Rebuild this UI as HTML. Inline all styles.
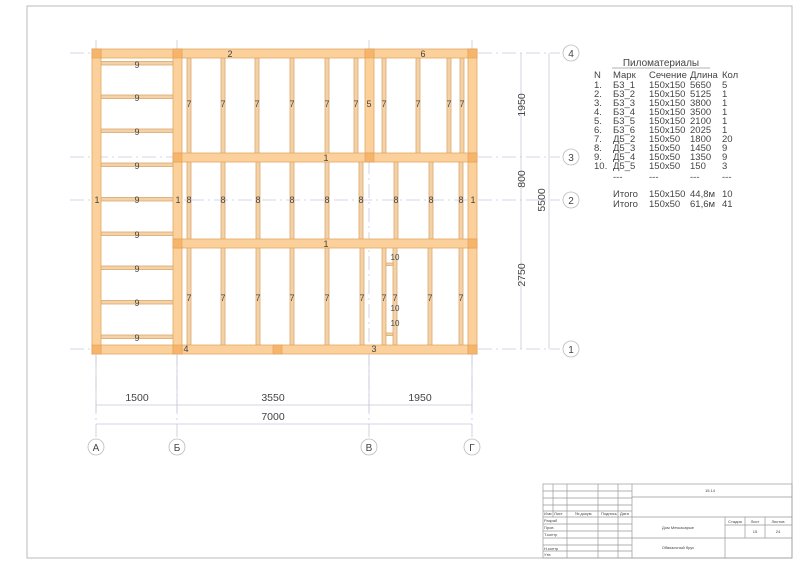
<!DOCTYPE html>
<html><head><meta charset="utf-8"><style>
html,body{margin:0;padding:0;background:#fff}
svg{display:block}
text{font-family:"Liberation Sans",sans-serif;fill:#444}
</style></head><body>
<svg width="800" height="565" viewBox="0 0 800 565" xmlns="http://www.w3.org/2000/svg">
<rect x="27" y="6" width="765" height="552" fill="none" stroke="#bbb" stroke-width="1"/>

<g stroke="#c8c8e0" stroke-width="0.8" stroke-dasharray="14,4,2,4" fill="none">
<line x1="70" y1="53" x2="560" y2="53"/>
<line x1="70" y1="157" x2="560" y2="157"/>
<line x1="70" y1="200" x2="560" y2="200"/>
<line x1="70" y1="349" x2="560" y2="349"/>
<line x1="96" y1="40" x2="96" y2="437"/>
<line x1="177" y1="40" x2="177" y2="437"/>
<line x1="369" y1="40" x2="369" y2="437"/>
<line x1="472" y1="40" x2="472" y2="437"/>
</g>

<g fill="#f5d2a6" stroke="#d9a86e" stroke-width="0.8">
<rect x="101" y="61.5" width="72" height="3.5"/>
<rect x="101" y="95" width="72" height="3.5"/>
<rect x="101" y="129" width="72" height="3.5"/>
<rect x="101" y="163" width="72" height="3.5"/>
<rect x="101" y="197.5" width="72" height="3.5"/>
<rect x="101" y="232" width="72" height="3.5"/>
<rect x="101" y="266" width="72" height="3.5"/>
<rect x="101" y="300.5" width="72" height="3.5"/>
<rect x="101" y="335" width="72" height="3.5"/>
</g>
<g fill="#f5d2a6" stroke="#d9a86e" stroke-width="0.8">
<rect x="187" y="58" width="4" height="96"/>
<rect x="221" y="58" width="4" height="96"/>
<rect x="255" y="58" width="4" height="96"/>
<rect x="290" y="58" width="4" height="96"/>
<rect x="325" y="58" width="4" height="96"/>
<rect x="354" y="58" width="4" height="96"/>
<rect x="382" y="58" width="4" height="96"/>
<rect x="416" y="58" width="4" height="96"/>
<rect x="447" y="58" width="4" height="96"/>
<rect x="460" y="58" width="4" height="96"/>
<rect x="187" y="161" width="4" height="78"/>
<rect x="221" y="161" width="4" height="78"/>
<rect x="256" y="161" width="4" height="78"/>
<rect x="290" y="161" width="4" height="78"/>
<rect x="325" y="161" width="4" height="78"/>
<rect x="359" y="161" width="4" height="78"/>
<rect x="394" y="161" width="4" height="78"/>
<rect x="429" y="161" width="4" height="78"/>
<rect x="459" y="161" width="4" height="78"/>
<rect x="187" y="247" width="4" height="98"/>
<rect x="221" y="247" width="4" height="98"/>
<rect x="256" y="247" width="4" height="98"/>
<rect x="290" y="247" width="4" height="98"/>
<rect x="325" y="247" width="4" height="98"/>
<rect x="360" y="247" width="4" height="98"/>
<rect x="382" y="247" width="4" height="98"/>
<rect x="393" y="247" width="4" height="98"/>
<rect x="428" y="247" width="4" height="98"/>
<rect x="459" y="247" width="4" height="98"/>
<rect x="386" y="263" width="7" height="2.5"/>
<rect x="386" y="333" width="7" height="2.5"/>
</g>

<g fill="#fbd09a" stroke="#e3a865" stroke-width="0.8">
<rect x="92" y="49" width="385" height="9"/>
<rect x="92" y="345" width="385" height="9"/>
<rect x="92" y="49" width="9" height="305"/>
<rect x="173" y="49" width="9" height="305"/>
<rect x="468" y="49" width="9" height="305"/>
<rect x="365" y="49" width="9" height="113"/>
<rect x="173" y="153" width="304" height="9"/>
<rect x="173" y="239" width="304" height="9"/>
</g>
<g fill="#f7b56a" stroke="#e0a060" stroke-width="0.6">
<rect x="92" y="49" width="9" height="9"/><rect x="173" y="49" width="9" height="9"/><rect x="365" y="49" width="9" height="9"/><rect x="468" y="49" width="9" height="9"/>
<rect x="92" y="345" width="9" height="9"/><rect x="173" y="345" width="9" height="9"/><rect x="468" y="345" width="9" height="9"/><rect x="273" y="345" width="9" height="9"/>
<rect x="173" y="153" width="9" height="9"/><rect x="365" y="153" width="9" height="9"/><rect x="468" y="153" width="9" height="9"/>
<rect x="173" y="239" width="9" height="9"/><rect x="468" y="239" width="9" height="9"/>
</g>

<g font-size="9" text-anchor="middle">
<g fill="#555">
<text x="137" y="68">9</text><text x="137" y="101">9</text><text x="137" y="135">9</text><text x="137" y="169">9</text><text x="137" y="203">9</text><text x="137" y="238">9</text><text x="137" y="272">9</text><text x="137" y="306">9</text><text x="137" y="341">9</text>
<text x="97" y="203">1</text><text x="178" y="203">1</text><text x="473" y="203">1</text>
<text x="230" y="57">2</text><text x="423" y="57">6</text>
<text x="326" y="161">1</text><text x="326" y="247">1</text>
<text x="369" y="107">5</text>
<text x="186" y="352">4</text><text x="374" y="352">3</text>
</g>
<g>
<text x="189" y="107">7</text><text x="223" y="107">7</text><text x="257" y="107">7</text><text x="292" y="107">7</text><text x="327" y="107">7</text><text x="356" y="107">7</text><text x="384" y="107">7</text><text x="418" y="107">7</text><text x="449" y="107">7</text><text x="462" y="107">7</text>
<text x="189" y="203">8</text><text x="223" y="203">8</text><text x="258" y="203">8</text><text x="292" y="203">8</text><text x="327" y="203">8</text><text x="361" y="203">8</text><text x="396" y="203">8</text><text x="431" y="203">8</text><text x="461" y="203">8</text>
<text x="189" y="301">7</text><text x="223" y="301">7</text><text x="258" y="301">7</text><text x="292" y="301">7</text><text x="327" y="301">7</text><text x="362" y="301">7</text><text x="384" y="301">7</text><text x="395" y="301">7</text><text x="430" y="301">7</text><text x="461" y="301">7</text>
<text x="395" y="260" font-size="8">10</text><text x="395" y="311" font-size="8">10</text><text x="395" y="326" font-size="8">10</text>
</g>
</g>

<g stroke="#c8c8d8" stroke-width="0.8">
<line x1="521" y1="53" x2="521" y2="349"/>
<line x1="549" y1="53" x2="549" y2="349"/>
<line x1="96" y1="354" x2="96" y2="412"/><line x1="177" y1="354" x2="177" y2="412"/><line x1="369" y1="354" x2="369" y2="412"/><line x1="472" y1="354" x2="472" y2="412"/>
<line x1="96" y1="405" x2="472" y2="405"/>
<line x1="96" y1="424" x2="472" y2="424"/>
</g>
<g font-size="10.5" fill="#444" text-anchor="middle">
<text transform="translate(525,105) rotate(-90)">1950</text>
<text transform="translate(525,179) rotate(-90)">800</text>
<text transform="translate(525,275) rotate(-90)">2750</text>
<text transform="translate(545,200) rotate(-90)">5500</text>
<text x="137" y="401">1500</text><text x="273" y="401">3550</text><text x="420" y="401">1950</text>
<text x="273" y="420">7000</text>
</g>
<g fill="#fff" stroke="#bbb" stroke-width="0.8">
<circle cx="571" cy="53" r="8"/><circle cx="571" cy="157" r="8"/><circle cx="571" cy="200" r="8"/><circle cx="571" cy="349" r="8"/>
<circle cx="96" cy="447" r="8"/><circle cx="177" cy="447" r="8"/><circle cx="369" cy="447" r="8"/><circle cx="472" cy="447" r="8"/>
</g>
<g font-size="10" text-anchor="middle" fill="#444">
<text x="571" y="57">4</text><text x="571" y="161">3</text><text x="571" y="204">2</text><text x="571" y="353">1</text>
<text x="96" y="451">А</text><text x="177" y="451">Б</text><text x="369" y="451">В</text><text x="472" y="451">Г</text>
</g>

<text x="661" y="66" font-size="10" text-anchor="middle" fill="#333">Пиломатериалы</text>
<line x1="612" y1="68" x2="710" y2="68" stroke="#999" stroke-width="0.8"/>
<g font-size="9.5" fill="#333">
<g>
<text x="594" y="78">N</text><text x="594" y="88">1.</text><text x="594" y="97">2.</text><text x="594" y="106">3.</text><text x="594" y="115">4.</text><text x="594" y="124">5.</text><text x="594" y="133">6.</text><text x="594" y="142">7.</text><text x="594" y="151">8.</text><text x="594" y="160">9.</text><text x="594" y="169">10.</text>
</g>
<g>
<text x="613" y="78">Марк</text><text x="613" y="88">Б3_1</text><text x="613" y="97">Б3_2</text><text x="613" y="106">Б3_3</text><text x="613" y="115">Б3_4</text><text x="613" y="124">Б3_5</text><text x="613" y="133">Б3_6</text><text x="613" y="142">Д5_2</text><text x="613" y="151">Д5_3</text><text x="613" y="160">Д5_4</text><text x="613" y="169">Д5_5</text><text x="613" y="180">---</text><text x="613" y="197">Итого</text><text x="613" y="207">Итого</text>
</g>
<g>
<text x="649" y="78">Сечение</text><text x="649" y="88">150x150</text><text x="649" y="97">150x150</text><text x="649" y="106">150x150</text><text x="649" y="115">150x150</text><text x="649" y="124">150x150</text><text x="649" y="133">150x150</text><text x="649" y="142">150x50</text><text x="649" y="151">150x50</text><text x="649" y="160">150x50</text><text x="649" y="169">150x50</text><text x="649" y="180">---</text><text x="649" y="197">150x150</text><text x="649" y="207">150x50</text>
</g>
<g>
<text x="690" y="78">Длина</text><text x="690" y="88">5650</text><text x="690" y="97">5125</text><text x="690" y="106">3800</text><text x="690" y="115">3500</text><text x="690" y="124">2100</text><text x="690" y="133">2025</text><text x="690" y="142">1800</text><text x="690" y="151">1450</text><text x="690" y="160">1350</text><text x="690" y="169">150</text><text x="690" y="180">---</text><text x="690" y="197">44,8м</text><text x="690" y="207">61,6м</text>
</g>
<g>
<text x="722" y="78">Кол</text><text x="722" y="88">5</text><text x="722" y="97">1</text><text x="722" y="106">1</text><text x="722" y="115">1</text><text x="722" y="124">1</text><text x="722" y="133">1</text><text x="722" y="142">20</text><text x="722" y="151">9</text><text x="722" y="160">9</text><text x="722" y="169">3</text><text x="722" y="180">---</text><text x="722" y="197">10</text><text x="722" y="207">41</text>
</g>
</g>

<g stroke="#999" stroke-width="0.7" fill="none">
<rect x="543" y="484" width="249" height="74"/>
<line x1="543" y1="491" x2="632" y2="491"/>
<line x1="543" y1="498" x2="632" y2="498"/>
<line x1="543" y1="505" x2="632" y2="505"/>
<line x1="543" y1="511" x2="632" y2="511"/>
<line x1="543" y1="517" x2="792" y2="517"/>
<line x1="543" y1="524" x2="632" y2="524"/>
<line x1="543" y1="531" x2="632" y2="531"/>
<line x1="543" y1="538" x2="792" y2="538"/>
<line x1="543" y1="545" x2="632" y2="545"/>
<line x1="543" y1="551" x2="632" y2="551"/>
<line x1="632" y1="497" x2="792" y2="497"/>
<line x1="725" y1="525" x2="792" y2="525"/>
<line x1="553" y1="484" x2="553" y2="517"/>
<line x1="567" y1="484" x2="567" y2="558"/>
<line x1="598" y1="484" x2="598" y2="558"/>
<line x1="618" y1="484" x2="618" y2="558"/>
<line x1="632" y1="484" x2="632" y2="558"/>
<line x1="725" y1="517" x2="725" y2="558"/>
<line x1="745" y1="517" x2="745" y2="538"/>
<line x1="765" y1="517" x2="765" y2="538"/>
</g>
<g font-size="4" fill="#555">
<text x="544" y="515">Изм</text><text x="554" y="515">Лист</text><text x="575" y="515">№ докум</text><text x="601" y="515">Подпись</text><text x="620" y="515">Дата</text>
<text x="544" y="522">Разраб</text><text x="544" y="529">Пров</text><text x="544" y="536">Т.контр</text><text x="544" y="550">Н.контр</text><text x="544" y="556">Утв</text>
<text x="710" y="492" text-anchor="middle">15.14</text>
<text x="678" y="529" text-anchor="middle">Дом Мечкасарые</text>
<text x="678" y="549" text-anchor="middle">Обвязочный брус</text>
<text x="735" y="523" text-anchor="middle">Стадия</text><text x="755" y="523" text-anchor="middle">Лист</text><text x="778" y="523" text-anchor="middle">Листов</text>
<text x="755" y="533" text-anchor="middle">15</text><text x="778" y="533" text-anchor="middle">24</text>
</g>
</svg>
</body></html>
